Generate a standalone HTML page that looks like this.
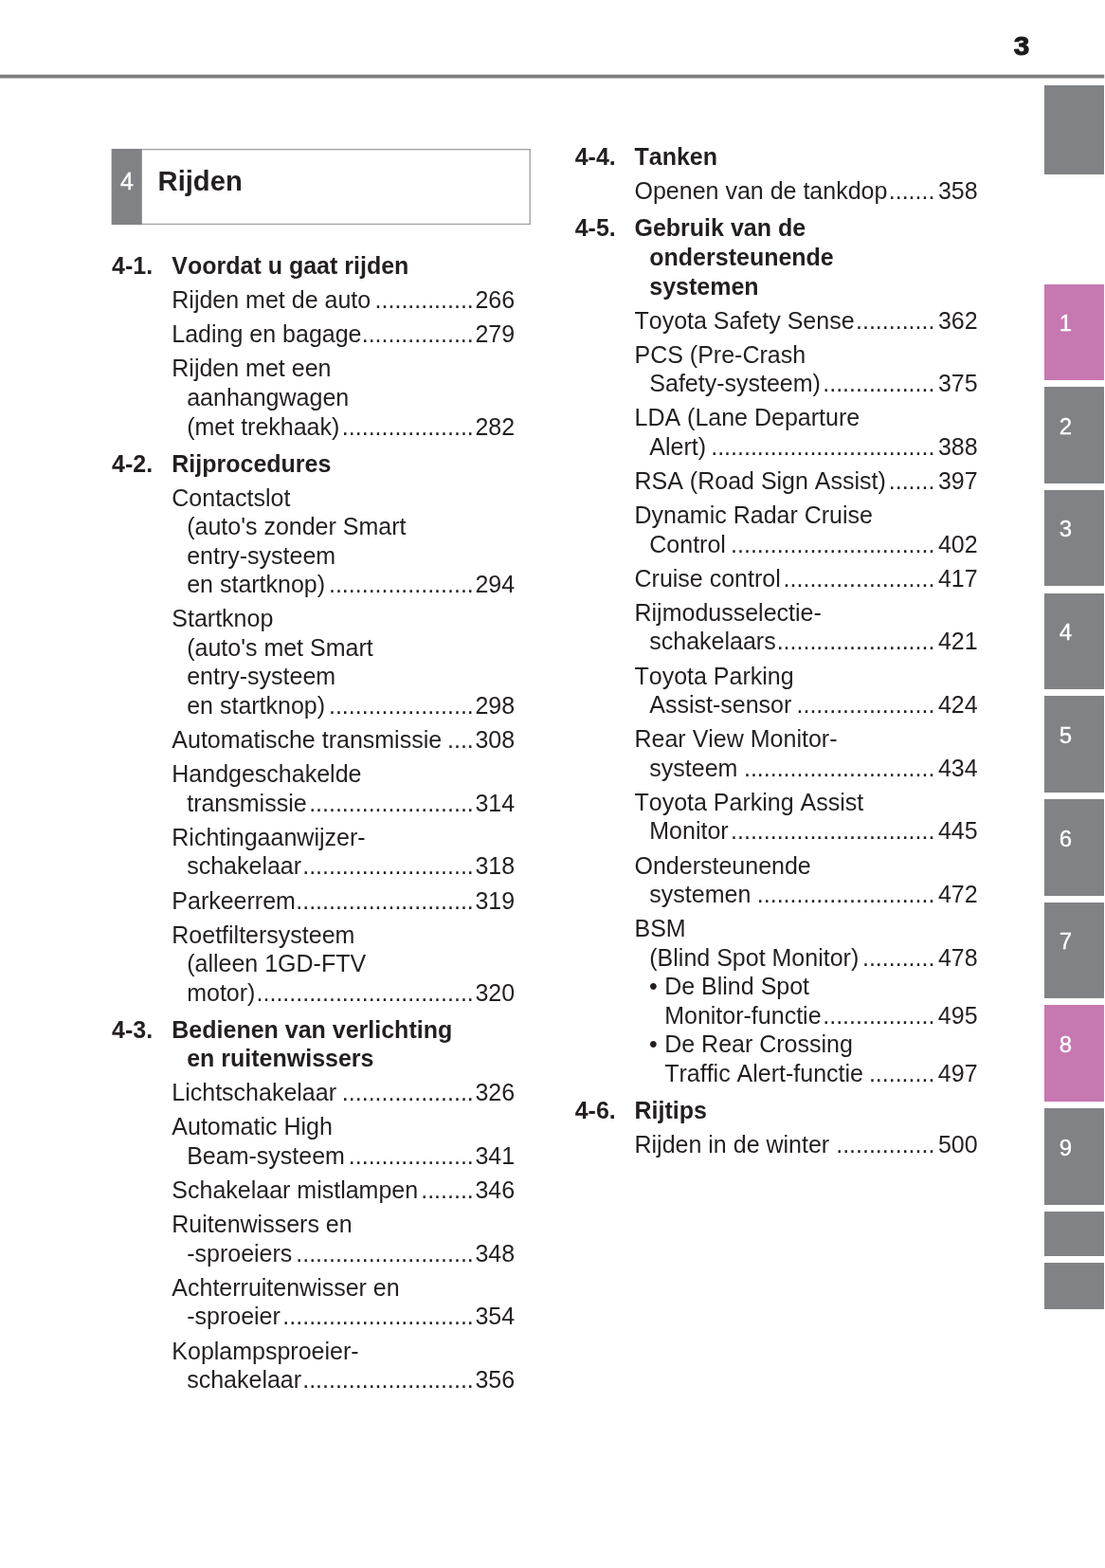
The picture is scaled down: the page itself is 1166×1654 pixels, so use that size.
<!DOCTYPE html>
<html lang="nl"><head><meta charset="utf-8"><title>Inhoudsopgave</title>
<style>
html,body{margin:0;padding:0;background:#fff}
body{width:1166px;height:1654px;position:relative;overflow:hidden;font-family:"Liberation Sans",Arial,Helvetica,sans-serif;color:#231f20;font-kerning:none}
.pn{position:absolute;left:1066.7px;top:28.5px;width:22px;text-align:center;font-weight:bold;font-size:27px;line-height:40px;color:#1a1a1a;-webkit-text-stroke:1px #1a1a1a;transform:scaleX(1.10);transform-origin:50% 50%}
  .tab{position:absolute;left:1102px;width:63.3px;background:#808285}
.tab.p{background:#c778b1}
.tab span{position:absolute;left:0;width:45px;top:26.6px;text-align:center;color:#fff;font-size:24px;line-height:30px;-webkit-text-stroke:0.3px #fff}
.cbx{position:absolute;left:0;top:0;width:1166px;height:260px}
.cnum{position:absolute;left:117.6px;width:32.6px;top:175.1px;text-align:center;color:#fff;font-size:25px;line-height:32px;-webkit-text-stroke:0.3px #fff}
.ctit{position:absolute;left:166.6px;top:171.4px;font-weight:bold;font-size:29.17px;line-height:40px}
.l{position:absolute;white-space:nowrap;font-size:25.0px;line-height:30.0px;height:30.0px}
.l.b{font-weight:bold}
.l.f{display:flex}
.l.f .d{flex:1 1 0;text-align:right;overflow:hidden}
.bu{display:inline-block;width:16.2px}
</style></head><body>
<div class="pn">3</div>
<div class="tab g" style="top:90.0px;height:94.0px"></div>
<div class="tab p" style="top:299.5px;height:101.6px"><span>1</span></div>
<div class="tab g" style="top:408.2px;height:101.6px"><span>2</span></div>
<div class="tab g" style="top:516.9px;height:101.6px"><span>3</span></div>
<div class="tab g" style="top:625.6px;height:101.6px"><span>4</span></div>
<div class="tab g" style="top:734.3px;height:101.6px"><span>5</span></div>
<div class="tab g" style="top:843.0px;height:101.6px"><span>6</span></div>
<div class="tab g" style="top:951.7px;height:101.6px"><span>7</span></div>
<div class="tab p" style="top:1060.4px;height:101.6px"><span>8</span></div>
<div class="tab g" style="top:1169.1px;height:101.6px"><span>9</span></div>
<div class="tab g" style="top:1277.6px;height:47.7px"></div>
<div class="tab g" style="top:1332.2px;height:48.4px"></div>
<svg class="cbx" viewBox="0 0 1166 260"><rect x="0" y="78.7" width="1165.2" height="3.8" fill="#7d7d7d"/><rect x="118.4" y="157.65" width="440.85" height="78.8" fill="none" stroke="#a1a3a6" stroke-width="1.4"/><rect x="117.8" y="157" width="32" height="80" fill="#808285"/></svg>
<div class="cnum">4</div><div class="ctit">Rijden</div>
<div class="l b" style="top:265.14px;left:118.1px">4-1.</div>
<div class="l b" style="top:265.14px;left:181.3px">Voordat u gaat rijden</div>
<div class="l f" style="top:301.24px;left:181.3px;width:361.9px"><span>Rijden met de auto</span><span class="d">...............</span><span class="n" style="margin-left:1.7px">266</span></div>
<div class="l f" style="top:337.34px;left:181.3px;width:361.9px"><span>Lading en bagage</span><span class="d">.................</span><span class="n" style="margin-left:1.7px">279</span></div>
<div class="l" style="top:373.44px;left:181.3px">Rijden met een</div>
<div class="l" style="top:403.99px;left:197.2px">aanhangwagen</div>
<div class="l f" style="top:434.54px;left:197.2px;width:346.0px"><span>(met trekhaak)</span><span class="d">....................</span><span class="n" style="margin-left:1.7px">282</span></div>
<div class="l b" style="top:473.54px;left:118.1px">4-2.</div>
<div class="l b" style="top:473.54px;left:181.3px">Rijprocedures</div>
<div class="l" style="top:509.64px;left:181.3px">Contactslot</div>
<div class="l" style="top:540.19px;left:197.2px">(auto's zonder Smart</div>
<div class="l" style="top:570.74px;left:197.2px">entry-systeem</div>
<div class="l f" style="top:601.29px;left:197.2px;width:346.0px"><span>en startknop)</span><span class="d">......................</span><span class="n" style="margin-left:1.7px">294</span></div>
<div class="l" style="top:637.39px;left:181.3px">Startknop</div>
<div class="l" style="top:667.94px;left:197.2px">(auto's met Smart</div>
<div class="l" style="top:698.49px;left:197.2px">entry-systeem</div>
<div class="l f" style="top:729.04px;left:197.2px;width:346.0px"><span>en startknop)</span><span class="d">......................</span><span class="n" style="margin-left:1.7px">298</span></div>
<div class="l f" style="top:765.14px;left:181.3px;width:361.9px"><span>Automatische transmissie</span><span class="d">....</span><span class="n" style="margin-left:1.7px">308</span></div>
<div class="l" style="top:801.24px;left:181.3px">Handgeschakelde</div>
<div class="l f" style="top:831.79px;left:197.2px;width:346.0px"><span>transmissie</span><span class="d">.........................</span><span class="n" style="margin-left:1.7px">314</span></div>
<div class="l" style="top:867.89px;left:181.3px">Richtingaanwijzer-</div>
<div class="l f" style="top:898.44px;left:197.2px;width:346.0px"><span>schakelaar</span><span class="d">..........................</span><span class="n" style="margin-left:1.7px">318</span></div>
<div class="l f" style="top:934.54px;left:181.3px;width:361.9px"><span>Parkeerrem</span><span class="d">...........................</span><span class="n" style="margin-left:1.7px">319</span></div>
<div class="l" style="top:970.64px;left:181.3px">Roetfiltersysteem</div>
<div class="l" style="top:1001.19px;left:197.2px">(alleen 1GD-FTV</div>
<div class="l f" style="top:1031.74px;left:197.2px;width:346.0px"><span>motor)</span><span class="d">.................................</span><span class="n" style="margin-left:1.7px">320</span></div>
<div class="l b" style="top:1070.74px;left:118.1px">4-3.</div>
<div class="l b" style="top:1070.74px;left:181.3px">Bedienen van verlichting</div>
<div class="l b" style="top:1101.29px;left:197.2px">en ruitenwissers</div>
<div class="l f" style="top:1137.39px;left:181.3px;width:361.9px"><span>Lichtschakelaar</span><span class="d">....................</span><span class="n" style="margin-left:1.7px">326</span></div>
<div class="l" style="top:1173.49px;left:181.3px">Automatic High</div>
<div class="l f" style="top:1204.04px;left:197.2px;width:346.0px"><span>Beam-systeem</span><span class="d">...................</span><span class="n" style="margin-left:1.7px">341</span></div>
<div class="l f" style="top:1240.14px;left:181.3px;width:361.9px"><span>Schakelaar mistlampen</span><span class="d">........</span><span class="n" style="margin-left:1.7px">346</span></div>
<div class="l" style="top:1276.24px;left:181.3px">Ruitenwissers en</div>
<div class="l f" style="top:1306.79px;left:197.2px;width:346.0px"><span>-sproeiers</span><span class="d">...........................</span><span class="n" style="margin-left:1.7px">348</span></div>
<div class="l" style="top:1342.89px;left:181.3px">Achterruitenwisser en</div>
<div class="l f" style="top:1373.44px;left:197.2px;width:346.0px"><span>-sproeier</span><span class="d">.............................</span><span class="n" style="margin-left:1.7px">354</span></div>
<div class="l" style="top:1409.54px;left:181.3px">Koplampsproeier-</div>
<div class="l f" style="top:1440.09px;left:197.2px;width:346.0px"><span>schakelaar</span><span class="d">..........................</span><span class="n" style="margin-left:1.7px">356</span></div>
<div class="l b" style="top:150.39px;left:606.7px">4-4.</div>
<div class="l b" style="top:150.39px;left:669.5px">Tanken</div>
<div class="l f" style="top:186.49px;left:669.5px;width:362.1px"><span>Openen van de tankdop</span><span class="d">.......</span><span class="n" style="margin-left:3.5px">358</span></div>
<div class="l b" style="top:225.49px;left:606.7px">4-5.</div>
<div class="l b" style="top:225.49px;left:669.5px">Gebruik van de</div>
<div class="l b" style="top:256.04px;left:685.3px">ondersteunende</div>
<div class="l b" style="top:286.59px;left:685.3px">systemen</div>
<div class="l f" style="top:322.69px;left:669.5px;width:362.1px"><span>Toyota Safety Sense</span><span class="d">............</span><span class="n" style="margin-left:3.5px">362</span></div>
<div class="l" style="top:358.79px;left:669.5px">PCS (Pre-Crash</div>
<div class="l f" style="top:389.34px;left:685.3px;width:346.3px"><span>Safety-systeem)</span><span class="d">.................</span><span class="n" style="margin-left:3.5px">375</span></div>
<div class="l" style="top:425.44px;left:669.5px">LDA (Lane Departure</div>
<div class="l f" style="top:455.99px;left:685.3px;width:346.3px"><span>Alert)</span><span class="d">..................................</span><span class="n" style="margin-left:3.5px">388</span></div>
<div class="l f" style="top:492.09px;left:669.5px;width:362.1px"><span>RSA (Road Sign Assist)</span><span class="d">.......</span><span class="n" style="margin-left:3.5px">397</span></div>
<div class="l" style="top:528.19px;left:669.5px">Dynamic Radar Cruise</div>
<div class="l f" style="top:558.74px;left:685.3px;width:346.3px"><span>Control</span><span class="d">...............................</span><span class="n" style="margin-left:3.5px">402</span></div>
<div class="l f" style="top:594.84px;left:669.5px;width:362.1px"><span>Cruise control</span><span class="d">.......................</span><span class="n" style="margin-left:3.5px">417</span></div>
<div class="l" style="top:630.94px;left:669.5px">Rijmodusselectie-</div>
<div class="l f" style="top:661.49px;left:685.3px;width:346.3px"><span>schakelaars</span><span class="d">........................</span><span class="n" style="margin-left:3.5px">421</span></div>
<div class="l" style="top:697.59px;left:669.5px">Toyota Parking</div>
<div class="l f" style="top:728.14px;left:685.3px;width:346.3px"><span>Assist-sensor</span><span class="d">.....................</span><span class="n" style="margin-left:3.5px">424</span></div>
<div class="l" style="top:764.24px;left:669.5px">Rear View Monitor-</div>
<div class="l f" style="top:794.79px;left:685.3px;width:346.3px"><span>systeem</span><span class="d">.............................</span><span class="n" style="margin-left:3.5px">434</span></div>
<div class="l" style="top:830.89px;left:669.5px">Toyota Parking Assist</div>
<div class="l f" style="top:861.44px;left:685.3px;width:346.3px"><span>Monitor</span><span class="d">...............................</span><span class="n" style="margin-left:3.5px">445</span></div>
<div class="l" style="top:897.54px;left:669.5px">Ondersteunende</div>
<div class="l f" style="top:928.09px;left:685.3px;width:346.3px"><span>systemen</span><span class="d">...........................</span><span class="n" style="margin-left:3.5px">472</span></div>
<div class="l" style="top:964.19px;left:669.5px">BSM</div>
<div class="l f" style="top:994.74px;left:685.3px;width:346.3px"><span>(Blind Spot Monitor)</span><span class="d">...........</span><span class="n" style="margin-left:3.5px">478</span></div>
<div class="l" style="top:1025.29px;left:685.0px"><span class="bu">•</span>De Blind Spot</div>
<div class="l f" style="top:1055.84px;left:701.2px;width:330.4px"><span>Monitor-functie</span><span class="d">.................</span><span class="n" style="margin-left:3.5px">495</span></div>
<div class="l" style="top:1086.39px;left:685.0px"><span class="bu">•</span>De Rear Crossing</div>
<div class="l f" style="top:1116.94px;left:701.2px;width:330.4px"><span>Traffic Alert-functie</span><span class="d">..........</span><span class="n" style="margin-left:3.5px">497</span></div>
<div class="l b" style="top:1155.94px;left:606.7px">4-6.</div>
<div class="l b" style="top:1155.94px;left:669.5px">Rijtips</div>
<div class="l f" style="top:1192.04px;left:669.5px;width:362.1px"><span>Rijden in de winter</span><span class="d">...............</span><span class="n" style="margin-left:3.5px">500</span></div>
</body></html>
